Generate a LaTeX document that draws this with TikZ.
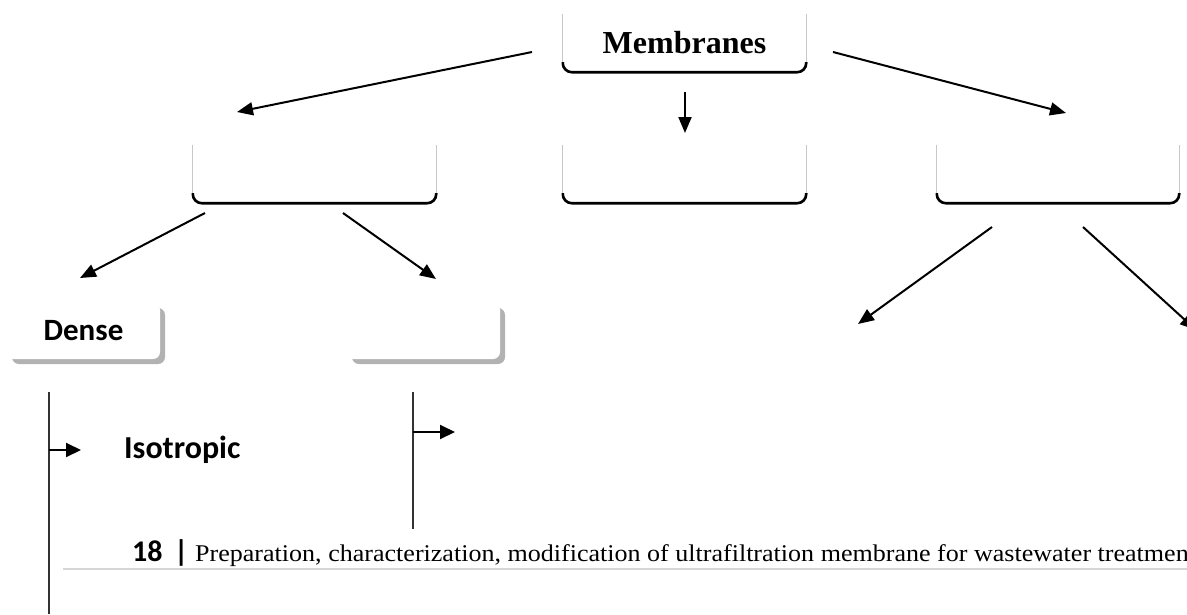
\documentclass[tikz,border=0pt]{standalone}
\usepackage{fontspec}
\setmainfont{Liberation Serif}
\newfontfamily\calib{Carlito}
\usetikzlibrary{arrows.meta,shadows}
\tikzset{
  arr/.style={line width=2pt,-{Triangle[length=16pt,width=13pt]}},
  harr/.style={line width=2pt,-{Triangle[length=15pt,width=14pt]}},
  vline/.style={line width=1.4pt,black!80},
  topbox/.style={minimum width=243pt,minimum height=58pt,inner sep=0pt,
     font=\bfseries\fontsize{32}{34}\selectfont},
  sidebox/.style={minimum width=153pt,minimum height=56pt,inner sep=0pt,
     fill=white,rounded corners=7pt,
     drop shadow={shadow xshift=5pt,shadow yshift=-5pt,fill=black!30,opacity=1},
     font=\calib\bfseries\fontsize{31}{33}\selectfont},
  sides/.style={line width=0.8pt,black!22},
  bottom/.style={line width=2.6pt,black,rounded corners=9pt},
  lbl/.style={font=\calib\bfseries\fontsize{32}{34}\selectfont,inner sep=0pt},
}
\newcommand{\boxdeco}[1]{%
  \draw[sides] (#1.north west) -- ([yshift=9pt]#1.south west);
  \draw[sides] (#1.north east) -- ([yshift=9pt]#1.south east);
  \draw[bottom] ([yshift=10pt]#1.south west) -- (#1.south west) -- (#1.south east) -- ([yshift=10pt]#1.south east);
}
\begin{document}
\begin{tikzpicture}[x=1pt,y=-1pt]
\useasboundingbox (0,0) rectangle (1187,614);
% top level boxes
\node[topbox] (mem) at (684.5,43) {Membranes};
\node[topbox] (bl) at (314.5,174) {};
\node[topbox] (bm) at (684.5,174) {};
\node[topbox,minimum width=242pt] (br) at (1058,174) {};
\boxdeco{mem}\boxdeco{bl}\boxdeco{bm}\boxdeco{br}
% second level boxes
\node[sidebox] (dense) at (83.5,331) {Dense};
\node[sidebox] (por) at (423.5,331) {};
% arrow end points
\coordinate (a1s) at (532,52);  \coordinate (a1e) at (237,112);
\coordinate (a2s) at (685,92);  \coordinate (a2e) at (685,133);
\coordinate (a3s) at (833,52);  \coordinate (a3e) at (1066,113);
\coordinate (a4s) at (205,213); \coordinate (a4e) at (80,278);
\coordinate (a5s) at (343,213); \coordinate (a5e) at (436,279);
\coordinate (a6s) at (992,227); \coordinate (a6e) at (858,324);
\coordinate (a7s) at (1083,227);\coordinate (a7e) at (1196,330);
\draw[arr] (a1s) -- (a1e);
\draw[arr] (a2s) -- (a2e);
\draw[arr] (a3s) -- (a3e);
\draw[arr] (a4s) -- (a4e);
\draw[arr] (a5s) -- (a5e);
\draw[arr] (a6s) -- (a6e);
\draw[arr] (a7s) -- (a7e);
% vertical lines and branches
\coordinate (v1t) at (49,392); \coordinate (v1b) at (49,614);
\coordinate (v2t) at (413,392); \coordinate (v2b) at (413,529);
\draw[vline] (v1t) -- (v1b);
\draw[vline] (v2t) -- (v2b);
\coordinate (h1s) at (49,450); \coordinate (h1e) at (81,450);
\coordinate (h2s) at (413,432); \coordinate (h2e) at (455,432);
\draw[harr] (h1s) -- (h1e);
\draw[harr] (h2s) -- (h2e);
\node[lbl,anchor=west] (iso) at (124,450) {Isotropic};
% footer
\node[anchor=base west,inner sep=0pt,font=\calib\bfseries\fontsize{30}{32}\selectfont] (pg) at (132,561) {18};
\node[anchor=base west,inner sep=0pt,font=\calib\bfseries\fontsize{30}{32}\selectfont] (bar) at (174,561) {|};
\node[anchor=base west,inner sep=0pt,font=\fontsize{24}{26}\selectfont] (ft) at (195,561) {\scalebox{1.085}[1]{Preparation, characterization, modification of ultrafiltration membrane for wastewater treatmen}};
\coordinate (gl1) at (63,569); \coordinate (gl2) at (1187,569);
\draw[line width=2pt,black!16] (gl1) -- (gl2);
\end{tikzpicture}
\end{document}
